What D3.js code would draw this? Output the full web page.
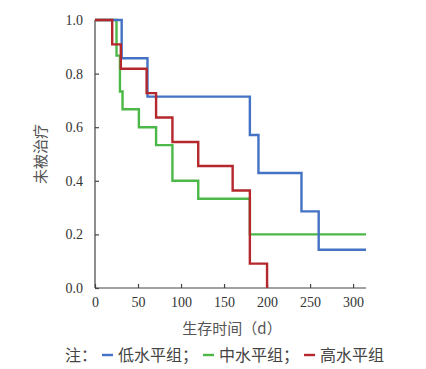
<!DOCTYPE html>
<html lang="zh">
<head>
<meta charset="UTF-8">
<title>km-curve</title>
<script src="https://cdn.jsdelivr.net/npm/d3@7/dist/d3.min.js"></script>
<style>
    body { margin: 0; background: #fff; }
    .tick text { font-family: "Liberation Serif", "DejaVu Serif", serif !important; }
</style>
</head>
<body>
<svg id="chart"></svg>
<script>
    var width = 426, height = 369;

    // survival steps: [time (d), survival after that time]
    var lowGroup  = [[0, 1], [31, 0.857], [61, 0.714], [180, 0.571], [190, 0.429], [240, 0.286], [260, 0.143], [315, 0.143]];
    var midGroup  = [[0, 1], [25, 0.867], [29, 0.733], [32, 0.667], [51, 0.6], [71, 0.533], [90, 0.4], [120, 0.333], [180, 0.2], [315, 0.2]];
    var highGroup = [[0, 1], [20, 0.909], [30, 0.818], [60, 0.727], [71, 0.636], [90, 0.545], [120, 0.455], [160, 0.364], [180, 0.091], [200, 0]];

    var groupNames = ['低水平组', '中水平组', '高水平组'];
    var groupColors = ['#4472c4', '#4cb848', '#b3272d'];
    var xTicks = [0, 50, 100, 150, 200, 250, 300];
    var yTicks = [0, 0.2, 0.4, 0.6, 0.8, 1.0];

    var cjk = '"Noto Sans CJK SC", sans-serif';

    var svg = d3.select('#chart').attr('width', width).attr('height', height);

    var x = d3.scaleLinear().domain([0, 315]).range([95, 366]);
    var y = d3.scaleLinear().domain([0, 1]).range([288, 20]);

    // axes (ticks point inward)
    var xAxis = svg.append('g')
        .attr('transform', 'translate(0,' + y(0) + ')')
        .call(d3.axisBottom(x).tickValues(xTicks).tickSizeInner(-4).tickSizeOuter(0).tickPadding(9));
    var yAxis = svg.append('g')
        .attr('transform', 'translate(' + x(0) + ',0)')
        .call(d3.axisLeft(y).tickValues(yTicks).tickFormat(d3.format('.1f')).tickSizeInner(-4).tickSizeOuter(0).tickPadding(12));

    [xAxis, yAxis].forEach(function (a) {
        a.attr('font-family', 'Liberation Serif').attr('font-size', 14);
        a.selectAll('path, line').attr('stroke', '#444').attr('stroke-width', 1.2);
        a.selectAll('text').attr('fill', '#333');
    });
    xAxis.select('.domain').attr('d', 'M' + x(0) + ',0H' + x(315));
    yAxis.select('.domain').attr('d', 'M0,' + y(0) + 'V' + y(1));

    // curves
    var line = d3.line()
        .x(function (d) { return x(d[0]); })
        .y(function (d) { return y(d[1]); })
        .curve(d3.curveStepAfter);

    // draw order: green, blue, red
    [1, 0, 2].forEach(function (i) {
        var data = [lowGroup, midGroup, highGroup][i];
        svg.append('path')
            .datum(data)
            .attr('fill', 'none')
            .attr('stroke', groupColors[i])
            .attr('stroke-width', 2.4)
            .attr('d', line);
    });

    // axis titles
    svg.append('text')
        .attr('transform', 'translate(46,' + y(0.5) + ') rotate(-90)')
        .attr('text-anchor', 'middle')
        .attr('font-family', cjk)
        .attr('font-size', 15)
        .attr('fill', '#555')
        .text('未被治疗');

    svg.append('text')
        .attr('x', 232)
        .attr('y', 334)
        .attr('text-anchor', 'middle')
        .attr('font-family', cjk)
        .attr('font-size', 15)
        .attr('fill', '#555')
        .text('生存时间（d）');

    // legend
    var legend = svg.append('g').attr('transform', 'translate(65,361)');
    var lx = 0;
    function addText(t) {
        var el = legend.append('text').attr('x', lx).attr('y', 0)
            .attr('font-family', cjk).attr('font-size', 16).attr('fill', '#444').text(t);
        lx += el.node().getComputedTextLength();
    }
    addText('注：');
    groupNames.forEach(function (name, i) {
        lx += 5;
        legend.append('line')
            .attr('x1', lx).attr('x2', lx + 11)
            .attr('y1', -6).attr('y2', -6)
            .attr('stroke', groupColors[i]).attr('stroke-width', 2.4);
        lx += 16;
        addText(name + (i < groupNames.length - 1 ? '；' : ''));
    });
</script>
</body>
</html>
